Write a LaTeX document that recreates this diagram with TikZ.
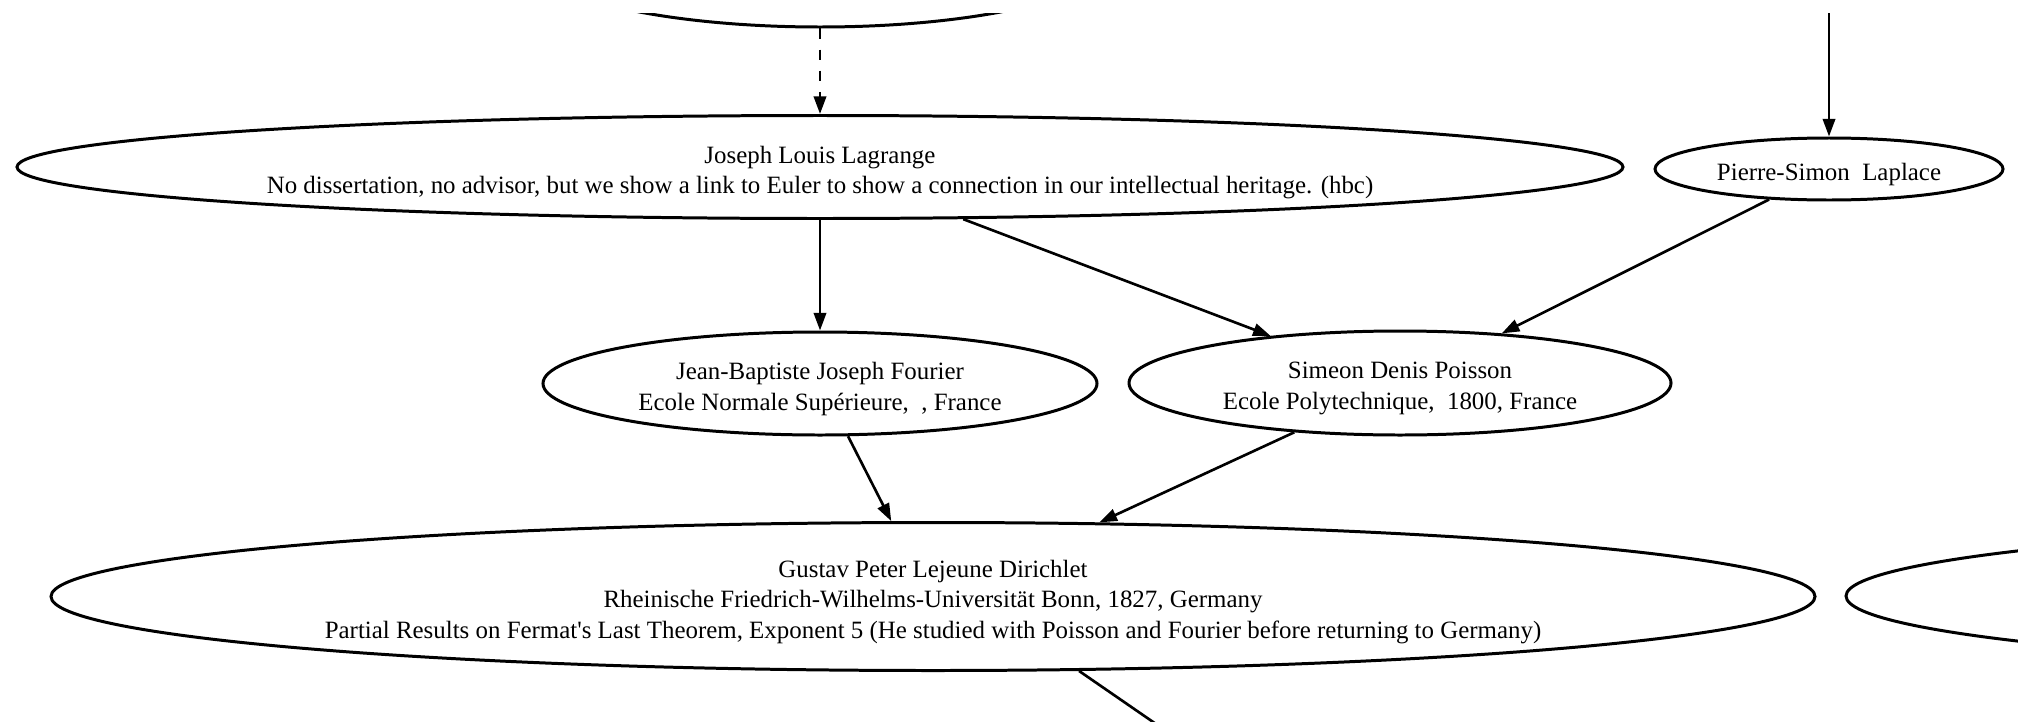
\documentclass[tikz,border=0pt]{standalone}
\usepackage{fontspec}
\setmainfont{Liberation Serif}
\usetikzlibrary{arrows.meta,shapes.geometric}
\begin{document}
\begin{tikzpicture}[x=0.5681pt,y=-0.5681pt,
  person/.style={ellipse,draw,line width=1.7pt,inner sep=0pt},
  txt/.style={align=center,inner sep=0pt,yshift=-3pt,
    font=\fontsize{14.15}{17.3}\selectfont},
  sz/.style 2 args={minimum width=#1*0.5681pt,minimum height=#2*0.5681pt},
  link/.style={line width=1.5pt,-{Triangle[length=10pt,width=7pt]}},
  dashedlink/.style={link,dash pattern=on 5.8pt off 6.2pt},
  ]
\useasboundingbox (0,0) rectangle (2018,721);
\begin{scope}
\clip (0,13) rectangle (2018,721);
\node[person,sz={598}{148}] (euler) at (820,-47) {};
\node[person,sz={1606}{103},
  label={[txt]center:{Joseph Louis Lagrange\\No dissertation, no advisor, but we show a link to Euler to show a connection in our intellectual heritage. (hbc)}}]
  (lag) at (820,167) {};
\node[person,sz={348}{62},
  label={[txt]center:{Pierre-Simon\ \ Laplace}}]
  (lap) at (1829,169) {};
\node[person,sz={554}{103},
  label={[txt]center:{Jean-Baptiste Joseph Fourier\\Ecole Normale Supérieure,\ \ , France}}]
  (fou) at (820,383.5) {};
\node[person,sz={542}{104},
  label={[txt]center:{Simeon Denis Poisson\\Ecole Polytechnique,\ \ 1800, France}}]
  (poi) at (1400,383) {};
\node[person,sz={1764}{148},
  label={[txt]center:{Gustav Peter Lejeune Dirichlet\\Rheinische Friedrich-Wilhelms-Universität Bonn, 1827, Germany\\Partial Results on Fermat\textquotesingle s Last Theorem, Exponent 5 (He studied with Poisson and Fourier before returning to Germany)}}]
  (dir) at (933,596.5) {};
\node[person,sz={1660}{148}] (right) at (2676,596) {};
\coordinate (lapin) at (1829,-20);
\coordinate (dirout) at (1230,775);
\draw[dashedlink] (euler.south) -- (lag.north);
\draw[link] (lag.south) -- (fou.north);
\draw[link] (lag.-20.7) -- (poi.160.2);
\draw[link] (lapin) -- (lap.north);
\draw[link] (lap.207.3) -- (poi.26.8);
\draw[link] (fou.-62.3) -- (dir.119.6);
\draw[link] (poi.205) -- (dir.24.6);
\draw[line width=1.5pt] (dir.-27) -- (dirout);
\end{scope}
\end{tikzpicture}
\end{document}
